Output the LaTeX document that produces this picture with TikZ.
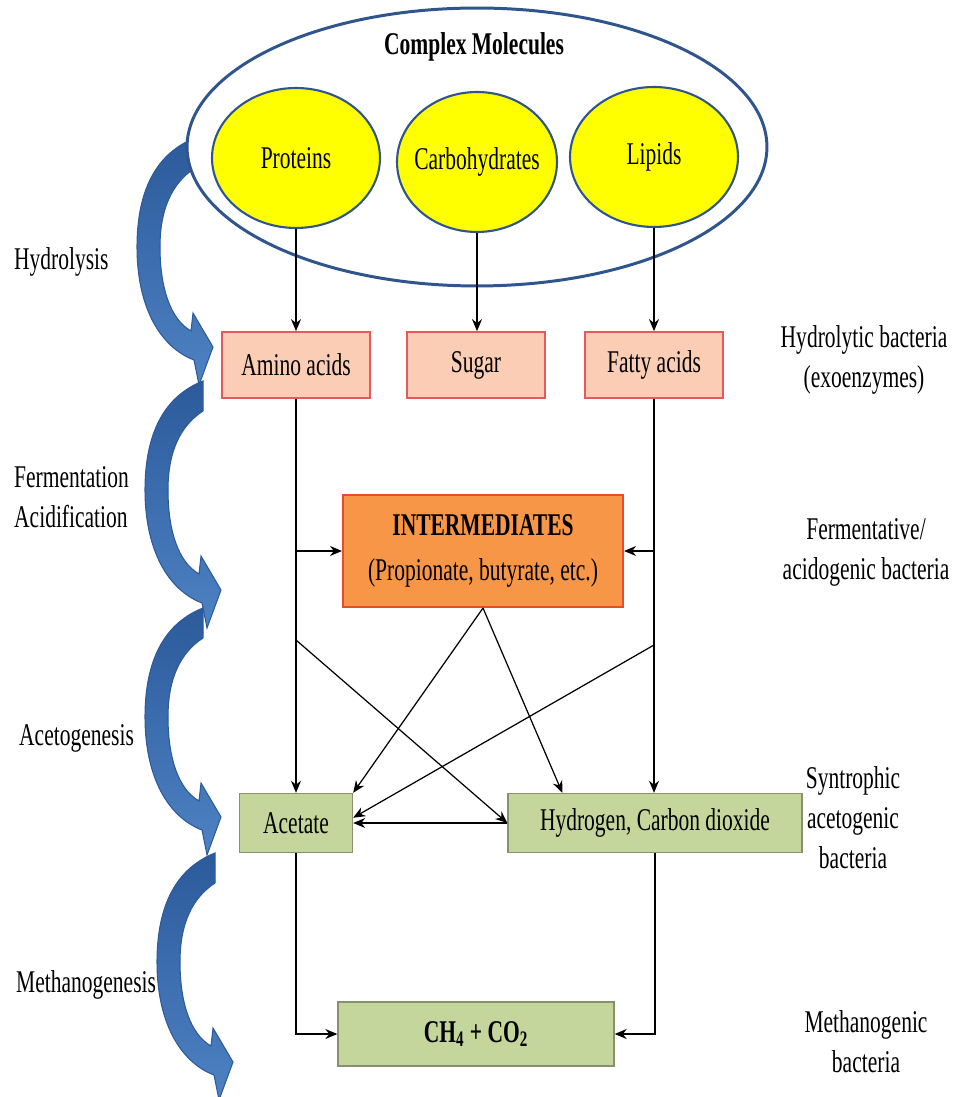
\documentclass[tikz,border=0pt]{standalone}
\usepackage{fontspec}
\setmainfont{Liberation Serif}[FakeStretch=0.68]
\usetikzlibrary{arrows.meta,positioning,shapes.geometric}
\definecolor{adnavy}{RGB}{47,85,140}
\definecolor{adyellow}{RGB}{255,255,0}
\definecolor{adpeach}{RGB}{250,205,180}
\definecolor{adred}{RGB}{228,90,90}
\definecolor{adorange}{RGB}{247,150,70}
\definecolor{adorangeline}{RGB}{235,75,45}
\definecolor{adgreen}{RGB}{196,214,155}
\definecolor{adolive}{RGB}{135,145,110}
\definecolor{adblue}{RGB}{78,130,195}
\definecolor{addark}{RGB}{44,90,155}

\begin{document}
\begin{tikzpicture}[x=0.02cm, y=-0.02cm,
    font=\fontsize{18}{22.8}\selectfont,
    molecule/.style={ellipse, draw=adnavy, line width=1.2pt, fill=adyellow, minimum width=#1, minimum height=2.8cm, inner sep=0pt},
    monomer/.style={rectangle, draw=adred, line width=1pt, fill=adpeach, minimum width=#1, minimum height=1.32cm},
    product/.style={rectangle, draw=adolive, line width=0.8pt, fill=adgreen, minimum width=#1, minimum height=1.18cm},
    arrow/.style={-{Stealth[length=2.4mm,width=2mm]}, line width=0.7pt, black},
    stagearrow/.style={draw=addark, line width=0.6pt, top color=addark, bottom color=adblue},
    stagelabel/.style={anchor=west, align=left},
    microbes/.style={align=center}
]
\useasboundingbox (0,0) rectangle (955,1097);

% Stage arrows (left)
\foreach \dx/\dy in {-8/-243, 0/0, 0/227, 12/472}
    \draw[stagearrow, shift={(\dx,\dy)}] (203,381) .. controls (160,398) and (145,440) .. (145,490)
        .. controls (145,550) and (168,590) .. (202,603) -- (207,628) -- (221,590) -- (201,556) -- (199,574)
        .. controls (178,562) and (168,530) .. (168,490) .. controls (168,452) and (180,426) .. (203,411) -- cycle;

% Complex molecules
\node[ellipse, draw=adnavy, line width=1.7pt, fill=white, minimum width=11.6cm, minimum height=5.56cm] (complex) at (477,147) {};
\node[font=\fontsize{18}{22.8}\selectfont\bfseries] (cmtitle) at (474,47) {Complex Molecules};
\node[molecule=3.36cm] (prot) at (296,158) {\makebox[0pt]{Proteins}};
\node[molecule=3.2cm] (carb) at (477,162) {\makebox[0pt]{Carbohydrates}};
\node[molecule=3.36cm] (lip) at (654,157) {\makebox[0pt]{Lipids}};

% Monomers
\node[monomer=2.96cm] (amino) at (296,365) {Amino acids};
\node[monomer=2.76cm] (sugar) at (476,365) {Sugar};
\node[monomer=2.76cm] (fatty) at (654,365) {Fatty acids};

% Intermediates
\node[rectangle, draw=adorangeline, line width=1.2pt, fill=adorange, minimum width=5.6cm, minimum height=2.24cm, align=center] (inter) at (483,551)
    {\textbf{INTERMEDIATES}\\[3pt](Propionate, butyrate, etc.)};

% Products
\node[product=2.26cm] (acet) at (296,823) {Acetate};
\node[product=5.88cm] (hyd) at (655,823) {Hydrogen, Carbon dioxide};
\node[product=5.52cm, minimum height=1.28cm] (ch4) at (476,1034) {\textbf{CH\textsubscript{4} + CO\textsubscript{2}}};

% Stage names
\node[stagelabel] (hydrolysis) at (8,262) {Hydrolysis};
\node[stagelabel] (ferment) at (8,497) {Fermentation\\Acidification};
\node[stagelabel] (aceto) at (13,738) {Acetogenesis};
\node[stagelabel] (methano) at (10,985) {Methanogenesis};

% Bacteria
\node[microbes] (hydbac) at (864,360) {Hydrolytic bacteria\\(exoenzymes)};
\node[microbes] (ferbac) at (866,552) {Fermentative/\\acidogenic bacteria};
\node[microbes] (synbac) at (853,818) {Syntrophic\\acetogenic\\bacteria};
\node[microbes] (metbac) at (866,1042) {Methanogenic\\bacteria};

% Connectors
\draw[arrow] (prot) -- (amino);
\draw[arrow] (carb.south) -- (carb.south |- sugar.north);
\draw[arrow] (lip) -- (fatty);
\draw[arrow] (amino) -- (acet);
\draw[arrow] (amino.south |- inter.west) -- (inter.west);
\draw[arrow] (fatty.south) -- (fatty.south |- hyd.north);
\draw[arrow] (fatty.south |- inter.east) -- (inter.east);
\coordinate (aminotap) at (amino.south |- 0,640);
\coordinate (fattytap) at (fatty.south |- 0,645);
\draw[arrow] (aminotap) -- (hyd.west);
\draw[arrow] (fattytap) -- ([yshift=3pt]acet.east);
\draw[arrow] (inter.south) -- (acet.north east);
\draw[arrow] (inter.south) -- ([xshift=1.1cm]hyd.north west);
\draw[arrow] (hyd.west) -- (acet.east);
\draw[arrow] (acet.south) |- (ch4.west);
\draw[arrow] (hyd.south) |- (ch4.east);

\end{tikzpicture}
\end{document}
